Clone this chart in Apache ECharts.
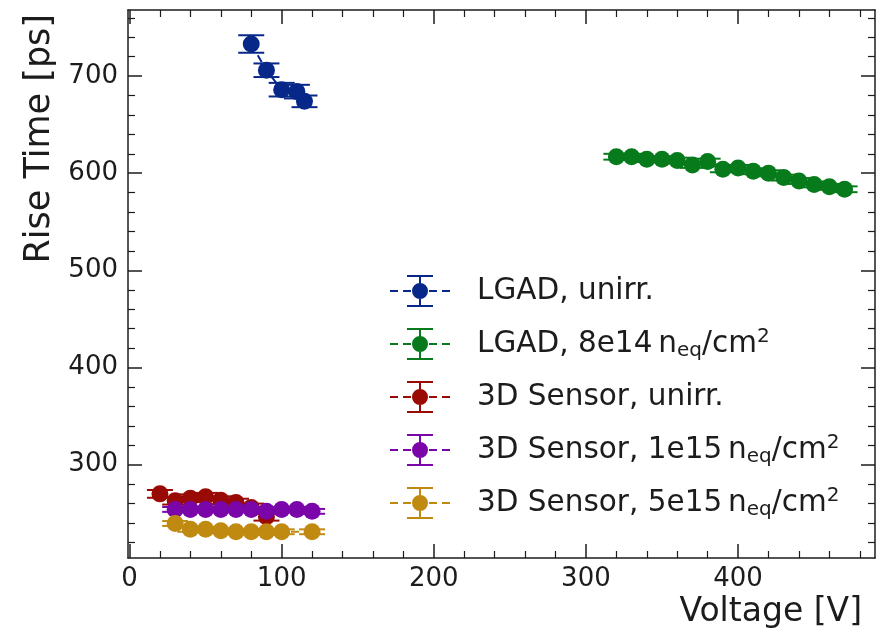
<!DOCTYPE html>
<html>
<head>
<meta charset="utf-8">
<script src="https://cdn.jsdelivr.net/npm/echarts@6/dist/echarts.min.js"></script>
<style>
html, body { margin: 0; padding: 0; background: #fff; }
#chart { width: 876px; height: 633px; }
</style>
</head>
<body>
<div id="chart"></div>
<script>
// rise time vs bias voltage
var lgadV = [80, 90, 100, 110, 115];
var lgadT = [733, 706, 686, 684, 674];
var lgadErr = [9, 7, 7, 7, 6];

var lgadIrrV = [320, 330, 340, 350, 360, 370, 380, 390, 400, 410, 420, 430, 440, 450, 460, 470];
var lgadIrrT = [617, 617, 614.5, 614.5, 613, 608.5, 612, 604, 605.5, 602, 600, 595.5, 592, 588.5, 586, 583.5];
var lgadIrrErr = [3, 3, 3, 3, 3, 3, 3, 3, 3, 3, 3, 3, 3, 3, 3, 3];

var d3dV = [20, 30, 40, 50, 60, 70, 80, 90];
var d3dT = [270, 263, 265.5, 267, 263.5, 261, 256, 246.5];
var d3dErr = [4, 4, 4, 4, 4, 4, 4, 4];

var d3d1e15V = [30, 40, 50, 60, 70, 80, 90, 100, 110, 120];
var d3d1e15T = [254, 254, 254, 254, 254, 254, 252, 254, 254, 252];
var d3d1e15Err = [2.5, 2.5, 2.5, 2.5, 2.5, 2.5, 2.5, 2.5, 2.5, 2.5];

var d3d5e15V = [30, 40, 50, 60, 70, 80, 90, 100, 120];
var d3d5e15T = [239.5, 233.5, 233.5, 232, 231, 231, 231, 231, 231];
var d3d5e15Err = [2.5, 2.5, 2.5, 2.5, 2.5, 2.5, 2.5, 2.5, 2.5];

var seriesNames = ['LGAD, unirr.', 'LGAD, 8e14 neq/cm2', '3D Sensor, unirr.', '3D Sensor, 1e15 neq/cm2', '3D Sensor, 5e15 neq/cm2'];
var legendLabels = [
  'LGAD, unirr.',
  'LGAD, 8e14\u2009n{sub|eq}/cm{sup|2}',
  '3D Sensor, unirr.',
  '3D Sensor, 1e15\u2009n{sub|eq}/cm{sup|2}',
  '3D Sensor, 5e15\u2009n{sub|eq}/cm{sup|2}'
];
var colors = ['#072789', '#077a1b', '#990a05', '#7a05a8', '#c08a10'];

var xMajorTicks = [0, 100, 200, 300, 400];
var xMinorTicks = [20, 40, 60, 80, 120, 140, 160, 180, 220, 240, 260, 280, 320, 340, 360, 380, 420, 440, 460, 480];
var yMajorTicks = [300, 400, 500, 600, 700];
var yMinorTicks = [220, 240, 260, 280, 320, 340, 360, 380, 420, 440, 460, 480, 520, 540, 560, 580, 620, 640, 660, 680, 720, 740, 760];

var groups = [
  [lgadV, lgadT, lgadErr],
  [lgadIrrV, lgadIrrT, lgadIrrErr],
  [d3dV, d3dT, d3dErr],
  [d3d1e15V, d3d1e15T, d3d1e15Err],
  [d3d5e15V, d3d5e15T, d3d5e15Err]
];

// dashed line, marker and error bar, like the matplotlib handle
var legendIcon = 'path://M0 15h8v2h-8z M13 15h8v2h-8z M39 15h8v2h-8z M52 15h8v2h-8z ' +
  'M29 1h2v30h-2z M17 0h26v2h-26z M17 30h26v2h-26z M22 16a8 8 0 1 1 16 0a8 8 0 1 1 -16 0z';

var font = 'DejaVu Sans';
var ink = '#1c1c1c';

function errRender(params, api) {
  var x = api.value(0);
  var top = api.coord([x, api.value(2)]);
  var bot = api.coord([x, api.value(1)]);
  var cap = 13;
  var st = { stroke: api.visual('color'), lineWidth: 2 };
  return {
    type: 'group',
    children: [
      { type: 'line', shape: { x1: top[0], y1: top[1], x2: bot[0], y2: bot[1] }, style: st },
      { type: 'line', shape: { x1: top[0] - cap, y1: top[1], x2: top[0] + cap, y2: top[1] }, style: st },
      { type: 'line', shape: { x1: bot[0] - cap, y1: bot[1], x2: bot[0] + cap, y2: bot[1] }, style: st }
    ]
  };
}

var series = [];
groups.forEach(function (g, i) {
  var pts = [], bars = [];
  for (var k = 0; k < g[0].length; k++) {
    pts.push([g[0][k], g[1][k]]);
    bars.push([g[0][k], g[1][k] - g[2][k], g[1][k] + g[2][k]]);
  }
  series.push({
    name: seriesNames[i] + ' err',
    type: 'custom',
    renderItem: errRender,
    itemStyle: { color: colors[i] },
    encode: { x: 0, y: [1, 2] },
    data: bars
  });
  series.push({
    name: seriesNames[i],
    type: 'line',
    symbol: 'circle',
    symbolSize: 17,
    itemStyle: { color: colors[i] },
    lineStyle: { color: colors[i], width: 2, type: [8, 5] },
    data: pts
  });
});

function axisSet(dim, pos, major, minor, min, max, showLabel) {
  var base = {
    type: 'value', position: pos, min: min, max: max,
    splitLine: { show: false },
    axisLine: { show: true, onZero: false, lineStyle: { color: ink, width: 1.5 } }
  };
  var a = Object.assign({}, base, {
    axisTick: { show: true, inside: true, length: 14, customValues: major, lineStyle: { color: ink, width: 1.5 } },
    axisLabel: showLabel ? { show: true, customValues: major, fontSize: 26, fontFamily: font, color: ink, margin: dim === 'x' ? 8 : 10 } : { show: false }
  });
  var b = Object.assign({}, base, {
    axisLine: { show: false, onZero: false },
    axisTick: { show: true, inside: true, length: 7, customValues: minor, lineStyle: { color: ink, width: 1.2 } },
    axisLabel: { show: false }
  });
  return [a, b];
}

var xAxes = axisSet('x', 'bottom', xMajorTicks, xMinorTicks, -1, 490, true)
  .concat(axisSet('x', 'top', xMajorTicks, xMinorTicks, -1, 490, false));
var yAxes = axisSet('y', 'left', yMajorTicks, yMinorTicks, 204, 768, true)
  .concat(axisSet('y', 'right', yMajorTicks, yMinorTicks, 204, 768, false));

var option = {
  animation: false,
  backgroundColor: '#fff',
  grid: { left: 128, right: 1, top: 10, bottom: 75, outerBoundsMode: 'none' },
  xAxis: xAxes,
  yAxis: yAxes,
  legend: {
    orient: 'vertical',
    left: 390,
    top: 274,
    padding: 0,
    itemGap: 19,
    itemWidth: 60,
    itemHeight: 32,
    selectedMode: false,
    itemStyle: { borderWidth: 0 },
    data: seriesNames.map(function (n) { return { name: n, icon: legendIcon }; }),
    formatter: function (name) { return legendLabels[seriesNames.indexOf(name)]; },
    textStyle: {
      fontSize: 29.5, fontFamily: font, color: ink, lineHeight: 34,
      padding: [0, 0, 0, 22],
      rich: {
        sub: { fontSize: 20, fontFamily: font, color: ink, lineHeight: 19, verticalAlign: 'bottom' },
        sup: { fontSize: 20, fontFamily: font, color: ink, lineHeight: 23, verticalAlign: 'top' }
      }
    }
  },
  graphic: [
    {
      type: 'text', x: 40, y: 14, rotation: Math.PI / 2,
      style: { text: 'Rise Time [ps]', font: '35px "DejaVu Sans"', fill: ink, align: 'right', verticalAlign: 'middle' }
    },
    {
      type: 'text', right: 14, bottom: 4,
      style: { text: 'Voltage [V]', font: '33px "DejaVu Sans"', fill: ink }
    }
  ],
  series: series
};

var myChart = echarts.init(document.getElementById('chart'));
myChart.setOption(option);
</script>
</body>
</html>
